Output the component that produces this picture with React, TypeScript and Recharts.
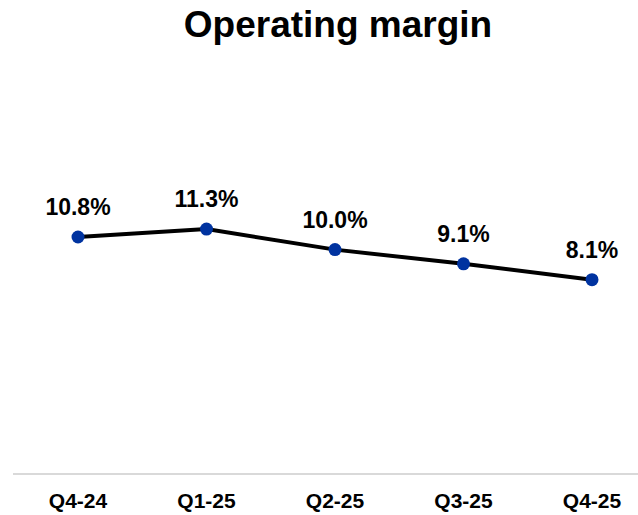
import { LineChart, Line, XAxis, YAxis, LabelList } from 'recharts';

const quarters = ['Q4-24', 'Q1-25', 'Q2-25', 'Q3-25', 'Q4-25'];
const margin = [10.8, 11.3, 10.0, 9.1, 8.1];

const data = quarters.map((q, i) => ({ quarter: q, margin: margin[i] }));

const font = '"Liberation Sans", Arial, sans-serif';

export default function App() {
  return (
    <div
      style={{
        position: 'absolute',
        left: 0,
        top: 0,
        width: 638,
        height: 515,
        backgroundColor: '#FFFFFF',
        fontFamily: font,
      }}
    >
      <div
        style={{
          position: 'absolute',
          top: 6,
          left: 19,
          width: 638,
          textAlign: 'center',
          fontSize: 37,
          lineHeight: '37px',
          fontWeight: 'bold',
          color: '#000000',
        }}
      >
        Operating margin
      </div>
      <LineChart
        width={638}
        height={515}
        data={data}
        margin={{ top: 60, right: 0, bottom: 0, left: 13 }}
      >
        <XAxis
          dataKey="quarter"
          height={41}
          padding={{ left: 65, right: 46 }}
          axisLine={{ stroke: '#D9D9D9', strokeWidth: 2 }}
          tickLine={false}
          tickMargin={13}
          tick={{ fill: '#000000', fontSize: 21, fontWeight: 'bold', fontFamily: font }}
          interval={0}
        />
        <YAxis hide domain={[-4.2, 22]} />
        <Line
          type="linear"
          dataKey="margin"
          stroke="#000000"
          strokeWidth={4}
          dot={{ r: 6.5, fill: '#0033A0', stroke: 'none' }}
          activeDot={false}
          isAnimationActive={false}
        >
          <LabelList
            dataKey="margin"
            position="top"
            offset={22}
            formatter={(v: number) => `${v.toFixed(1)}%`}
            style={{ fill: '#000000', fontSize: 23, fontWeight: 'bold', fontFamily: font }}
          />
        </Line>
      </LineChart>
    </div>
  );
}
